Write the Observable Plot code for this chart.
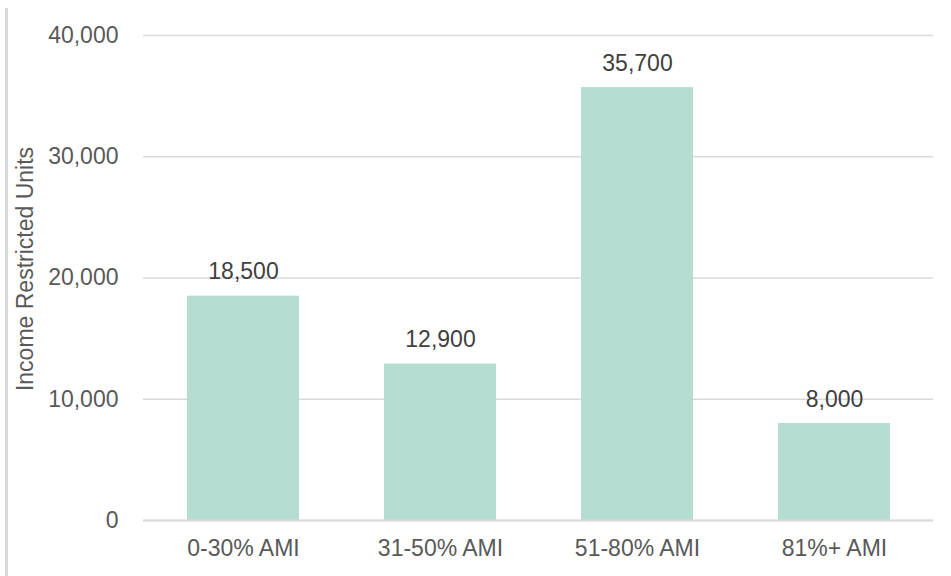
<!DOCTYPE html>
<html>
<head>
<meta charset="utf-8">
<script src="https://cdn.jsdelivr.net/npm/d3@7"></script>
<script src="https://cdn.jsdelivr.net/npm/@observablehq/plot@0.6"></script>
<style>
  html, body { margin: 0; padding: 0; background: #fff; }
  #wrap { position: relative; width: 951px; height: 576px; overflow: hidden; background: #fff; }
  #chart { position: absolute; left: 0; top: 0; }
  #frame { position: absolute; left: 5px; top: 8px; width: 3px; bottom: 0; background: #d9d9d9; }
</style>
</head>
<body>
<div id="wrap"><div id="chart"></div><div id="frame"></div></div>
<script>
// Income-restricted units by AMI band
const categories = ["0-30% AMI", "31-50% AMI", "51-80% AMI", "81%+ AMI"];
const units = [18500, 12900, 35700, 8000];
const yTicks = [0, 10000, 20000, 30000, 40000];
const yTitle = "Income Restricted Units";

const rows = categories.map((c, i) => ({category: c, units: units[i]}));
const fmt = d3.format(",");
const font = "'Liberation Sans', Arial, sans-serif";

const chart = Plot.plot({
  width: 951,
  height: 576,
  marginLeft: 143,
  marginRight: 18,
  marginTop: 35,
  marginBottom: 56,
  style: {fontFamily: font, fontSize: "23px", color: "#595959", background: "transparent"},
  x: {domain: categories, paddingInner: 0.433, paddingOuter: 0.2165, label: null},
  y: {domain: [0, 40000], label: null},
  marks: [
    Plot.gridY(yTicks, {stroke: "#d9d9d9", strokeOpacity: 1, strokeWidth: 1.5}),
    Plot.barY(rows, {x: "category", y: "units", fill: "#b5ddd1"}),
    Plot.ruleY([0], {stroke: "#d9d9d9", strokeWidth: 2}),
    Plot.text(rows, {x: "category", y: "units", text: d => fmt(d.units), lineAnchor: "bottom", dy: -17, fill: "#404040", fontSize: 23}),
    Plot.axisY(yTicks, {tickSize: 0, tickPadding: 25, tickFormat: fmt, fontSize: 23, fill: "#595959", label: null}),
    Plot.axisX({tickSize: 0, tickPadding: 19, fontSize: 23, fill: "#595959", label: null}),
    Plot.text([yTitle], {frameAnchor: "left", textAnchor: "middle", lineAnchor: "middle", rotate: -90, dx: -118, dy: -9, fontSize: 23, fill: "#595959"})
  ]
});
document.getElementById("chart").appendChild(chart);
</script>
</body>
</html>
